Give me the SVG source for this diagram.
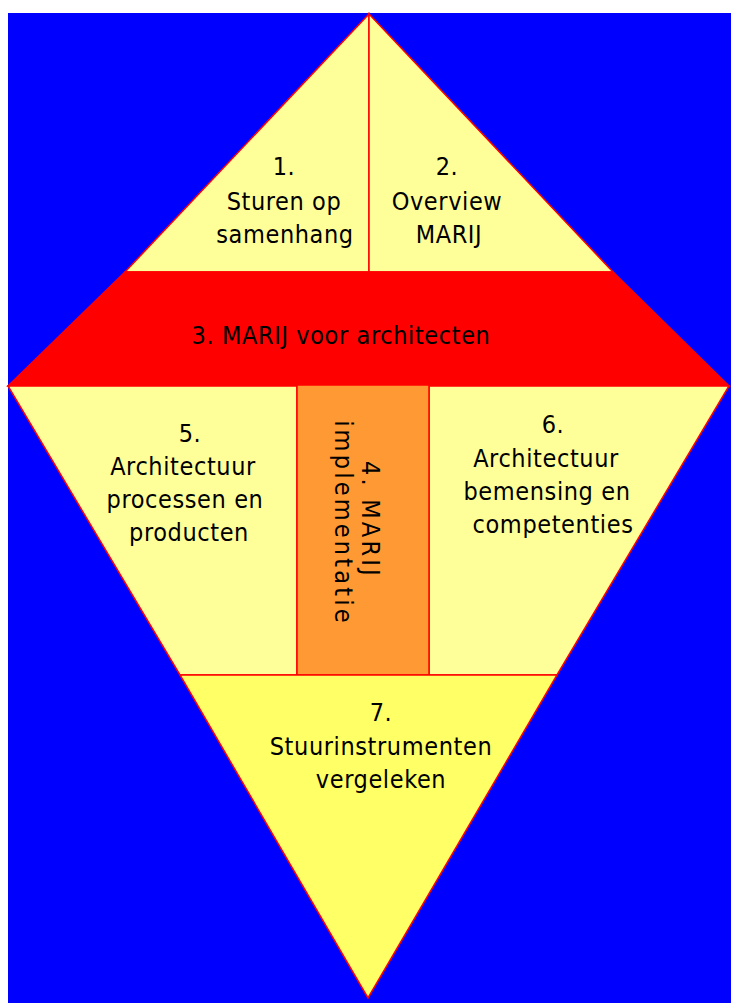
<svg xmlns="http://www.w3.org/2000/svg" width="731" height="1003" viewBox="0 0 731 1003">
<style>
.p{stroke:#FF0000;stroke-width:1.5;stroke-linejoin:miter}
.ly{fill:#FFFF99}
.t{font-family:"DejaVu Sans Condensed","DejaVu Sans",sans-serif;font-stretch:condensed;font-size:25px;fill:#000;text-anchor:middle;letter-spacing:0.6px}
.r{letter-spacing:3.2px}
</style>
<rect x="0" y="0" width="731" height="1003" fill="#FFFFFF"/>
<rect x="8" y="13" width="723" height="990" fill="#0000FF"/>
<g id="n1">
<polygon class="p ly" points="369,14 125,272 369,272"/>
<text class="t" x="284" y="175">1.</text>
<text class="t" x="284" y="210">Sturen op</text>
<text class="t" x="285" y="243">samenhang</text>
</g>
<g id="n2">
<polygon class="p ly" points="369,14 613,272 369,272"/>
<text class="t" x="447" y="175">2.</text>
<text class="t" x="447" y="210">Overview</text>
<text class="t" x="449" y="243">MARIJ</text>
</g>
<g id="n3">
<polygon class="p" fill="#FF0000" points="125,272 613,272 729,386 8,386"/>
<text class="t" x="341" y="344">3. MARIJ voor architecten</text>
</g>
<g id="n5">
<polygon class="p ly" points="8,386 297,386 297,675 180,675"/>
<text class="t" x="190" y="442">5.</text>
<text class="t" x="183" y="475">Architectuur</text>
<text class="t" x="185" y="508">processen en</text>
<text class="t" x="189" y="541">producten</text>
</g>
<g id="n6">
<polygon class="p ly" points="429,386 729,386 557,675 429,675"/>
<text class="t" x="553" y="433">6.</text>
<text class="t" x="546" y="467">Architectuur</text>
<text class="t" x="547" y="500">bemensing en</text>
<text class="t" x="553" y="533">competenties</text>
</g>
<g id="n4">
<rect class="p" fill="#FF9933" x="297" y="385" width="132" height="290"/>
<text class="t r" transform="translate(362,520) rotate(90)">4. MARIJ</text>
<text class="t r" transform="translate(335,523) rotate(90)">implementatie</text>
</g>
<g id="n7">
<polygon class="p" fill="#FFFF66" points="180,675 557,675 368,998"/>
<text class="t" x="381" y="721">7.</text>
<text class="t" x="381" y="755">Stuurinstrumenten</text>
<text class="t" x="381" y="788">vergeleken</text>
</g>
<g id="connectors"></g>
</svg>
